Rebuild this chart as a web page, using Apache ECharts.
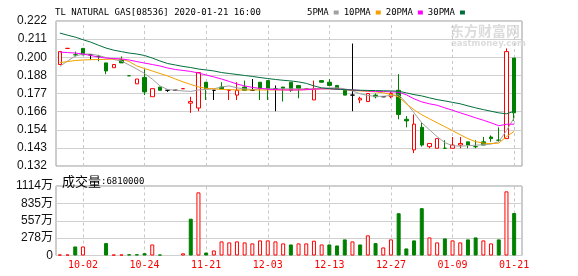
<!DOCTYPE html>
<html><head><meta charset="utf-8">
<script src="https://cdn.jsdelivr.net/npm/echarts@6/dist/echarts.min.js"></script>
<style>html,body{margin:0;padding:0;background:#fff}#c{width:578px;height:276px}</style>
</head><body><div id="c"></div>
<script>
// ---- data ----
const dates = ['', '', '', '10-02', '', '', '', '', '', '',
  '', '10-24', '', '', '', '', '', '', '', '11-21',
  '', '', '', '', '', '', '', '12-03', '', '',
  '', '', '', '', '', '12-13', '', '', '', '',
  '', '', '', '12-27', '', '', '', '', '', '',
  '', '01-09', '', '', '', '', '', '', '', '01-21'];
const opens = [0.195,0.205,0.201,0.205,0.201,0.200,0.196,0.193,0.198,0.188,
  0.183,0.187,0.175,0.181,0.179,0.179,0.180,0.171,0.168,0.184,
  0.179,0.181,0.179,0.176,0.181,0.179,0.184,0.185,0.180,0.181,
  0.184,0.182,0.180,0.173,0.185,0.184,0.182,0.179,0.176,0.173,
  0.172,0.176,0.175,0.175,0.179,0.161,0.142,0.156,0.144,0.143,
  0.143,0.143,0.145,0.147,0.144,0.147,0.150,0.148,0.149,0.199];
const closes = [0.203,0.205,0.201,0.201,0.201,0.200,0.191,0.195,0.196,0.188,
  0.186,0.178,0.180,0.179,0.179,0.179,0.180,0.172,0.190,0.180,
  0.179,0.180,0.179,0.179,0.179,0.179,0.180,0.180,0.180,0.180,
  0.179,0.180,0.180,0.180,0.184,0.182,0.180,0.176,0.176,0.174,
  0.177,0.175,0.175,0.177,0.164,0.160,0.158,0.145,0.146,0.149,
  0.143,0.145,0.146,0.145,0.144,0.145,0.149,0.148,0.203,0.165];
const lows = [0.195,0.205,0.200,0.201,0.198,0.197,0.189,0.193,0.196,0.188,
  0.183,0.176,0.175,0.179,0.178,0.179,0.180,0.165,0.166,0.173,
  0.173,0.180,0.173,0.173,0.179,0.179,0.173,0.173,0.166,0.172,
  0.178,0.174,0.180,0.173,0.184,0.182,0.180,0.176,0.166,0.171,
  0.172,0.174,0.175,0.174,0.161,0.156,0.140,0.144,0.143,0.143,
  0.143,0.143,0.143,0.143,0.143,0.145,0.147,0.147,0.149,0.160];
const highs = [0.203,0.205,0.203,0.205,0.201,0.201,0.196,0.195,0.200,0.188,
  0.186,0.192,0.180,0.181,0.179,0.179,0.180,0.175,0.190,0.184,
  0.179,0.184,0.179,0.184,0.185,0.186,0.184,0.185,0.182,0.181,
  0.184,0.182,0.180,0.185,0.185,0.186,0.182,0.179,0.208,0.175,
  0.177,0.177,0.175,0.178,0.189,0.163,0.164,0.159,0.146,0.149,
  0.148,0.150,0.150,0.147,0.148,0.150,0.151,0.156,0.205,0.199];
// change vs previous close: 1 up, -1 down, 0 unchanged
const trend = [1,1,-1,0,0,-1,-1,1,1,-1, -1,-1,1,-1,0,0,1,-1,1,-1,
  0,0,1,1,1,0,1,1,0,1, -1,1,1,1,1,-1,-1,-1,0,-1,
  1,-1,0,1,-1,-1,-1,-1,1,1, -1,1,1,-1,-1,1,1,-1,1,-1];
// volume in 万 (10,000 shares)
const volume = [15,15,145,145,0,0,199,15,15,20, 20,37,177,15,0,0,35,590,1012,48,
  81,226,210,226,210,194,242,242,226,194, 177,194,194,237,177,177,161,258,226,177,
  323,199,129,258,678,113,242,759,290,210, 274,242,210,258,290,242,194,258,1028,681];
const ma5 = [0.1938,0.1972,0.2002,0.2015,0.2015,0.2006,0.1993,0.1981,0.1972,0.1947,
  0.1922,0.1894,0.1860,0.1817,0.1795,0.1790,0.1786,0.1783,0.1792,0.1795,
  0.1799,0.1811,0.1817,0.1805,0.1799,0.1795,0.1799,0.1799,0.1799,0.1799,
  0.1799,0.1799,0.1799,0.1799,0.1802,0.1805,0.1805,0.1799,0.1786,0.1768,
  0.1758,0.1752,0.1753,0.1758,0.1762,0.1712,0.1650,0.1588,0.1545,0.1502,
  0.1465,0.1446,0.1443,0.1446,0.1449,0.1452,0.1456,0.1471,0.1539,0.1619];
const ma10 = [0.1962,0.1968,0.1975,0.1978,0.1980,0.1981,0.1982,0.1984,0.1984,0.1968,
  0.1941,0.1925,0.1910,0.1894,0.1879,0.1860,0.1842,0.1826,0.1811,0.1802,
  0.1799,0.1795,0.1794,0.1792,0.1792,0.1792,0.1792,0.1792,0.1792,0.1792,
  0.1792,0.1792,0.1794,0.1795,0.1799,0.1799,0.1797,0.1794,0.1790,0.1786,
  0.1783,0.1780,0.1774,0.1765,0.1749,0.1706,0.1669,0.1638,0.1613,0.1588,
  0.1564,0.1539,0.1514,0.1490,0.1471,0.1462,0.1459,0.1462,0.1502,0.1535];
const ma20 = [0.2027,0.2024,0.2021,0.2015,0.2006,0.1996,0.1990,0.1987,0.1984,0.1978,
  0.1968,0.1959,0.1950,0.1941,0.1928,0.1919,0.1913,0.1907,0.1897,0.1885,
  0.1873,0.1860,0.1845,0.1829,0.1817,0.1808,0.1802,0.1797,0.1794,0.1792,
  0.1792,0.1792,0.1794,0.1797,0.1799,0.1799,0.1797,0.1795,0.1792,0.1789,
  0.1786,0.1783,0.1782,0.1780,0.1778,0.1762,0.1737,0.1718,0.1706,0.1697,
  0.1681,0.1666,0.1650,0.1635,0.1619,0.1604,0.1588,0.1570,0.1579,0.1580];
const ma30 = [0.2145,0.2132,0.2120,0.2104,0.2089,0.2070,0.2052,0.2039,0.2030,0.2021,
  0.2015,0.2006,0.1990,0.1972,0.1956,0.1947,0.1938,0.1931,0.1922,0.1916,
  0.1910,0.1900,0.1894,0.1888,0.1882,0.1876,0.1869,0.1863,0.1857,0.1852,
  0.1848,0.1842,0.1833,0.1817,0.1805,0.1800,0.1797,0.1794,0.1792,0.1790,
  0.1789,0.1788,0.1787,0.1786,0.1784,0.1774,0.1763,0.1755,0.1743,0.1732,
  0.1724,0.1715,0.1706,0.1693,0.1681,0.1670,0.1660,0.1650,0.1644,0.1660];
const priceTicks = ['0.132','0.143','0.154','0.166','0.177','0.188','0.200','0.211','0.222'];
const volTicks = ['0','278万','557万','835万','1114万'];
const titleText = 'TL NATURAL GAS[08536] 2020-01-21 16:00';
const maNames = ['5PMA','10PMA','20PMA','30PMA'];

// ---- build ----
const RED = '#ff0000', GREEN = '#008000', BLACK = '#000000';
const tColor = t => t > 0 ? RED : (t < 0 ? GREEN : BLACK);
const cats = dates.map((d, i) => d === '' ? '#' + i : d);
const tickCats = cats.filter((c, i) => dates[i] !== '');
const pMin = 0.132, pMax = 0.222, pInt = 0.01125;
const vMin = 0, vMax = 1114, vInt = 278.5;

const kData = opens.map((o, i) => {
  const item = { value: [o, closes[i], lows[i], highs[i]] };
  if (o === closes[i]) {
    const c = tColor(trend[i]);
    item.itemStyle = { borderColorDoji: c, borderColor: c, borderColor0: c };
  }
  return item;
});
const volData = volume.map((v, i) => ({
  value: v === 0 ? null : v,
  itemStyle: trend[i] >= 0
    ? { color: '#ffffff', borderColor: RED, borderWidth: 1 }
    : { color: GREEN, borderColor: GREEN, borderWidth: 1 }
}));
const dashLines = (z) => ({
  silent: true, symbol: 'none', z: z, label: { show: false },
  lineStyle: { color: '#c8c8c8', type: [3, 3], width: 1 },
  emphasis: { disabled: true },
  data: tickCats.map(c => ({ xAxis: c }))
});
const maColors = ['#a0a0a0', '#f5a000', '#ff00ff', '#006f3c'];
const maData = [ma5, ma10, ma20, ma30];

const PL = 56, PT = 21, PH = 145, VT = 186, VH = 69.5;
const frameW = 466, dataW = 462;
const axisFont = 'Liberation Sans';
const mono = 'DejaVu Sans Mono';

const option = {
  animation: false,
  backgroundColor: '#ffffff',
  title: [
    { text: titleText, left: 50, top: 3,
      textStyle: { fontFamily: mono, fontSize: 9, fontWeight: 'normal', color: '#000' } },
    { text: '{a|成交量}{b|:' + Math.round(volume[volume.length - 1] * 10000) + '}', left: 57, top: 170,
      textStyle: { fontWeight: 'normal', rich: {
        a: { fontFamily: 'Noto Sans CJK SC', fontSize: 13, fontWeight: 'normal', color: '#000' },
        b: { fontFamily: mono, fontSize: 9, fontWeight: 'normal', color: '#000' } } } }
  ],
  legend: {
    left: 302, top: 3, itemWidth: 5, itemHeight: 4, itemGap: 5, align: 'right', icon: 'rect',
    selectedMode: false, data: maNames,
    textStyle: { fontFamily: mono, fontSize: 9, color: '#000' }
  },
  graphic: [
    { type: 'text', left: 450, top: 24, z: 0, silent: true,
      style: { text: '东方财富网', fill: '#dcdcdc', font: 'bold 14px "Noto Sans CJK SC"' } },
    { type: 'text', left: 451, top: 39, z: 0, silent: true,
      style: { text: 'eastmoney.com', fill: '#dcdcdc', font: 'bold 8.5px "DejaVu Sans"' } }
  ],
  grid: [
    { left: PL, top: PT, width: frameW, height: PH, show: true, borderColor: '#9a9a9a', borderWidth: 1, backgroundColor: 'transparent', containLabel: false },
    { left: PL, top: PT, width: dataW, height: PH, containLabel: false },
    { left: PL, top: VT, width: frameW, height: VH, show: true, borderColor: '#9a9a9a', borderWidth: 1, backgroundColor: 'transparent', containLabel: false },
    { left: PL, top: VT, width: dataW, height: VH, containLabel: false }
  ],
  xAxis: [
    { gridIndex: 0, type: 'value', min: 0, max: 1, show: false },
    { gridIndex: 1, type: 'category', data: cats, boundaryGap: true, show: false },
    { gridIndex: 2, type: 'value', min: 0, max: 1, show: false },
    { gridIndex: 3, type: 'category', data: cats, boundaryGap: true,
      axisLine: { show: false }, axisTick: { show: false }, splitLine: { show: false },
      axisLabel: { interval: (idx) => dates[idx] !== '', formatter: (v, idx) => dates[idx],
        color: RED, fontFamily: mono, fontSize: 10, margin: 5 } }
  ],
  yAxis: [
    { gridIndex: 0, type: 'value', min: pMin, max: pMax, interval: pInt,
      axisLine: { show: false }, axisTick: { show: false },
      axisLabel: { margin: 9, fontFamily: axisFont, fontSize: 12, color: '#111',
        showMinLabel: true, showMaxLabel: true,
        formatter: v => priceTicks[Math.round((v - pMin) / pInt)] },
      splitLine: { show: true, lineStyle: { color: '#d0d0d0', width: 1 } } },
    { gridIndex: 1, type: 'value', min: pMin, max: pMax, show: false, splitLine: { show: false } },
    { gridIndex: 2, type: 'value', min: vMin, max: vMax, interval: vInt,
      axisLine: { show: false }, axisTick: { show: false },
      axisLabel: { margin: 3, fontFamily: axisFont + ', Noto Sans CJK SC', fontSize: 12, color: '#111',
        showMinLabel: true, showMaxLabel: true,
        formatter: v => volTicks[Math.round((v - vMin) / vInt)] },
      splitLine: { show: true, lineStyle: { color: '#d0d0d0', width: 1 } } },
    { gridIndex: 3, type: 'value', min: vMin, max: vMax, show: false, splitLine: { show: false } }
  ],
  series: [
    { type: 'candlestick', name: 'K', xAxisIndex: 1, yAxisIndex: 1, z: 3,
      barWidth: 4, data: kData,
      itemStyle: { color: '#ffffff', color0: GREEN, borderColor: RED, borderColor0: GREEN, borderWidth: 1 },
      emphasis: { disabled: true },
      markLine: dashLines(1) },
    ...maNames.map((n, k) => ({
      type: 'line', name: n, xAxisIndex: 1, yAxisIndex: 1, z: 4,
      data: maData[k], symbol: 'none', showSymbol: false, smooth: false,
      color: maColors[k], lineStyle: { color: maColors[k], width: 1 },
      emphasis: { disabled: true }
    })),
    { type: 'bar', name: 'VOL', xAxisIndex: 3, yAxisIndex: 3, z: 3,
      barWidth: 4, data: volData, emphasis: { disabled: true },
      markLine: dashLines(1) }
  ]
};
const chart = echarts.init(document.getElementById('c'), null, { renderer: 'canvas' });
chart.setOption(option);
</script>
</body></html>
